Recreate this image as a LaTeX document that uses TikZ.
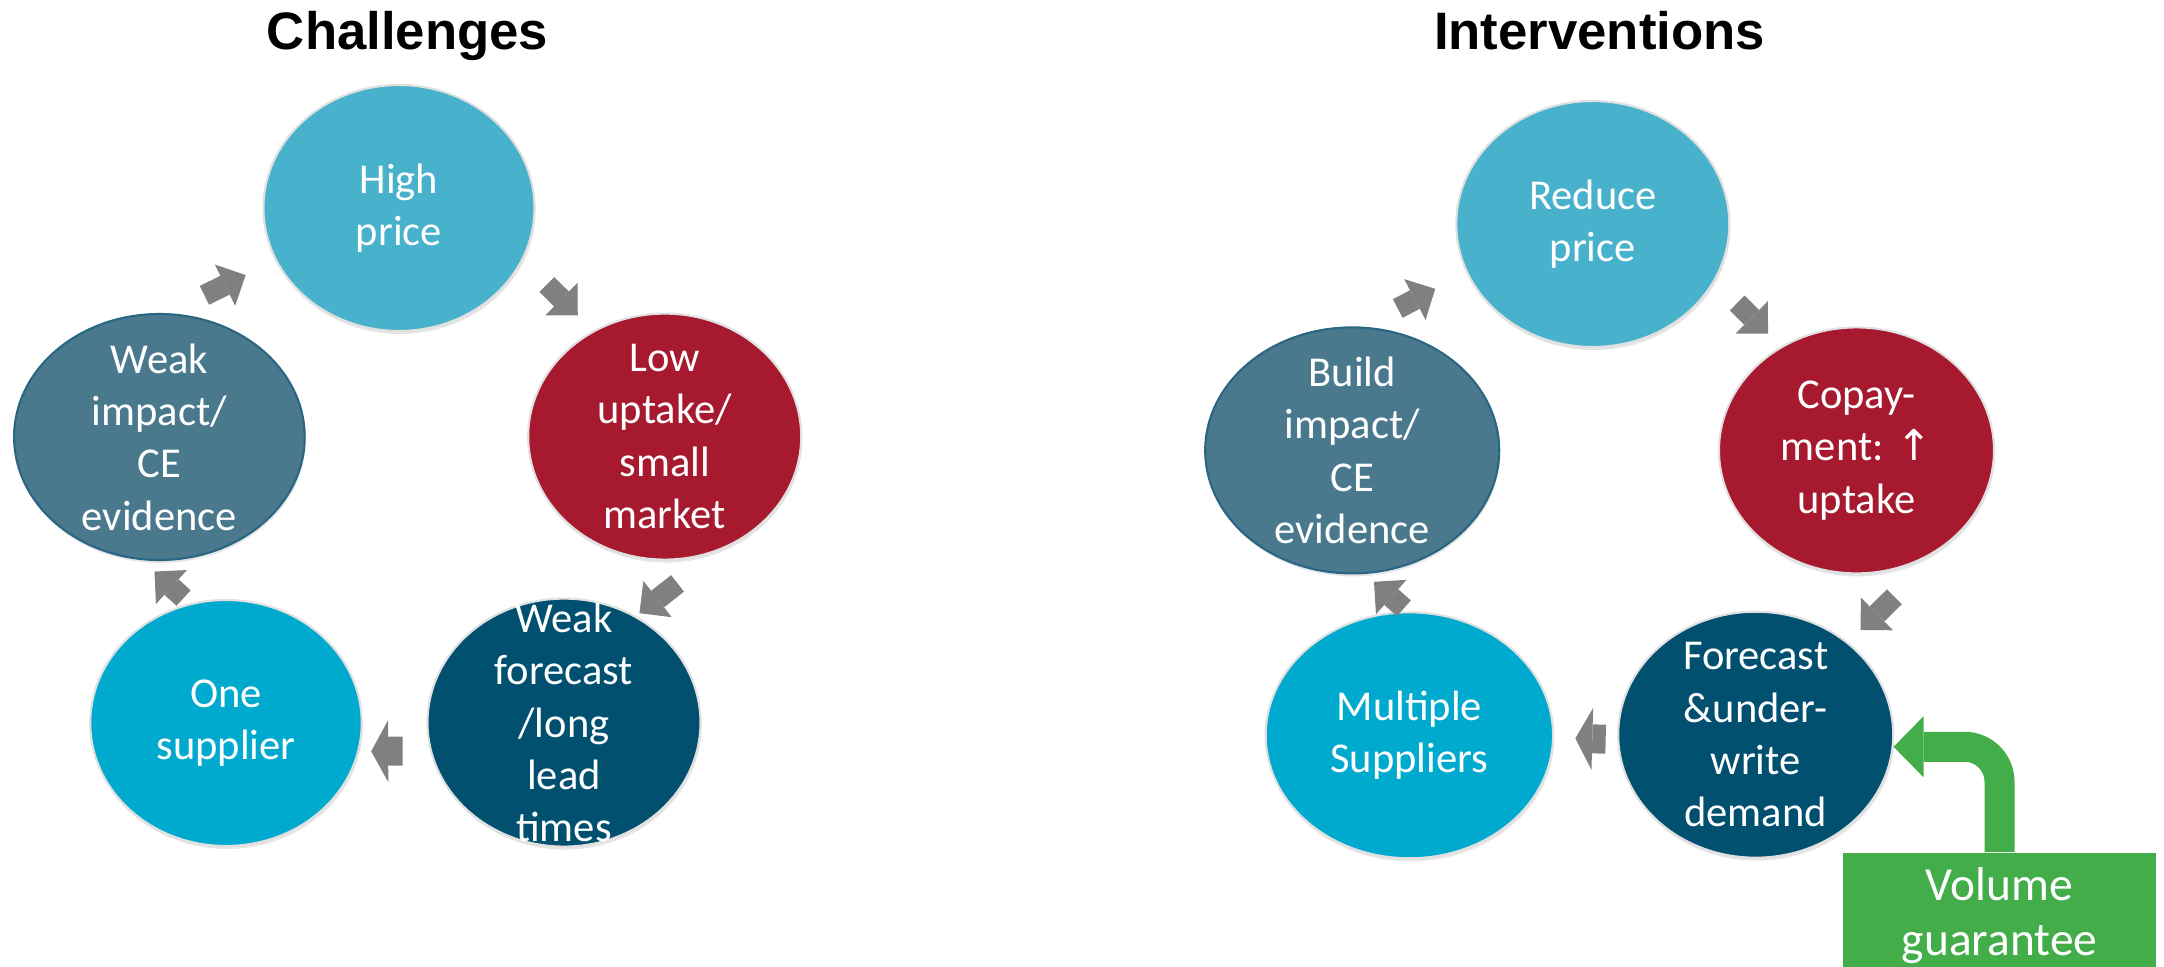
\documentclass[tikz,border=0pt]{standalone}
\usepackage{fontspec}
\setmainfont{Carlito}
\newfontfamily\headfont{Liberation Sans}
\newfontfamily\symbfont{DejaVu Sans}
\usetikzlibrary{shapes.geometric,arrows.meta,shadows}
\definecolor{skyteal}{HTML}{48B1CB}
\definecolor{wine}{HTML}{A6192E}
\definecolor{deepnavy}{HTML}{015070}
\definecolor{brightcyan}{HTML}{00AACE}
\definecolor{slate}{HTML}{4A798D}
\definecolor{slaterim}{HTML}{2A6684}
\definecolor{arrowgray}{HTML}{808080}
\definecolor{leafgreen}{HTML}{43AD4A}

\begin{document}
\begin{tikzpicture}[
  every node/.style={font=\fontsize{12.1}{14.9}\selectfont},
  disc/.style={ellipse, minimum width=2.73cm, minimum height=2.46cm, inner xsep=0pt, inner ysep=-0.5cm,
    align=center, text=white, draw=black!12, line width=0.6pt,
    drop shadow={shadow xshift=0.01cm, shadow yshift=-0.03cm, opacity=0.2}},
  headline/.style={font=\headfont\bfseries\fontsize{15}{18}\selectfont, anchor=base},
  flow/.style={draw=arrowgray, line width=0.21cm, -{Triangle[width=0.46cm,length=0.23cm,line width=0pt]}},
  flowwide/.style={draw=arrowgray, line width=0.29cm, -{Triangle[width=0.62cm,length=0.17cm,line width=0pt]}},
  vgbox/.style={fill=leafgreen, text=white, minimum width=3.13cm, minimum height=1.26cm, anchor=north,
    align=center, font=\fontsize{13.5}{15.7}\selectfont},
  gflow/.style={draw=leafgreen, line width=0.30cm, rounded corners=0.35cm,
    -{Triangle[width=0.61cm,length=0.30cm,line width=0pt]}}
]
  \useasboundingbox (0,0) rectangle (21.64,9.66);
  \clip (0,0) rectangle (21.64,9.66);

  % challenges
  \node[headline] (chal) at (4.076,9.17) {Challenges};
  \node[disc, fill=skyteal, minimum width=2.71cm] (hp) at (3.99,7.58) {High\\price};
  \node[disc, fill=wine] (lu) at (6.647,5.294) {Low\\uptake/\\small\\market};
  \node[disc, fill=deepnavy, minimum height=2.48cm] (wf) at (5.64,2.434) {Weak\\forecast\\/long\\lead\\times};
  \node[disc, fill=brightcyan, minimum width=2.715cm] (os) at (2.26,2.43) {One\\supplier};
  \node[disc, fill=slate, draw=slaterim, minimum width=2.906cm] (wi) at (1.594,5.29) {Weak\\impact/\\CE\\evidence};

  \draw[flow, shorten <=0.405cm, shorten >=0.33cm] (wi.86) -- (hp.203);
  \draw[flow, shorten <=0.34cm, shorten >=0.218cm] (hp.337) -- (lu.124);
  \draw[flow, shorten <=0.54cm, shorten >=0.045cm] (lu.296) -- (wf.56);
  \draw[flowwide, shorten <=0.275cm, shorten >=0.12cm] (wf.192) -- (os.348);
  \draw[flow, shorten <=0.08cm, shorten >=0.168cm] (os.107) -- (wi.262);

  % interventions
  \node[headline] (intv) at (15.996,9.17) {Interventions};
  \node[disc, fill=skyteal] (rp) at (15.928,7.42) {Reduce\\price};
  \node[disc, fill=wine, minimum width=2.75cm] (cp) at (18.565,5.156) {Copay-\\ment: {\symbfont ↑}\\uptake};
  \node[disc, fill=deepnavy, minimum width=2.75cm] (fc) at (17.557,2.313) {Forecast\\\&under-\\write\\demand};
  \node[disc, fill=brightcyan, minimum width=2.874cm] (ms) at (14.094,2.307) {Multiple\\Suppliers};
  \node[disc, fill=slate, draw=slaterim, minimum width=2.94cm] (bi) at (13.522,5.156) {Build\\impact/\\CE\\evidence};

  \draw[flow, shorten <=0.392cm, shorten >=0.35cm] (bi.85) -- (rp.201);
  \draw[flow, shorten <=0.313cm, shorten >=0.182cm] (rp.335) -- (cp.126);
  \draw[flow, shorten <=0.79cm, shorten >=0.175cm] (cp.316) -- (fc.45);
  \draw[flowwide, shorten <=0.116cm, shorten >=0.212cm] (fc.182) -- (ms.359);
  \draw[flow, shorten <=0.045cm, shorten >=0.118cm] (ms.91) -- (bi.276);

  \node[vgbox] (vg) at (19.995,1.14) {Volume\\guarantee};
  \draw[gflow] (vg.north) |- (fc.355);
\end{tikzpicture}
\end{document}
